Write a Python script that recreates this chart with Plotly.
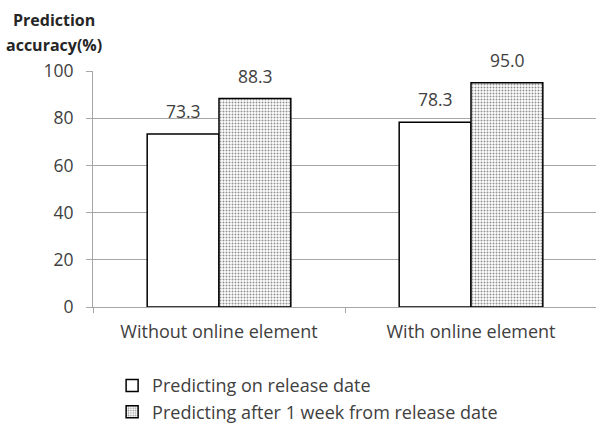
import plotly.graph_objects as go

categories = ["Without online element", "With online element"]
on_release = [73.3, 78.3]
after_week = [88.3, 95.0]
series_names = ["Predicting on release date",
                "Predicting after 1 week from release date"]
y_ticks = [0, 20, 40, 60, 80, 100]

TEXT = "#404040"
GRID = "#a6a6a6"
FONT = "Open Sans, DejaVu Sans, sans-serif"
BAR_PX = 72  # drawn bar width in pixels, used to centre value labels

fig = go.Figure()
fig.add_trace(go.Bar(
    x=categories, y=on_release, name=series_names[0],
    marker=dict(color="white", line=dict(color="black", width=1.5)),
    legendgroup="a",
))
fig.add_trace(go.Bar(
    x=categories, y=after_week, name=series_names[1],
    marker=dict(color="white", line=dict(color="black", width=1.5),
                pattern=dict(shape=".", fgcolor="#222222", bgcolor="white",
                             size=3, solidity=0.33)),
    legendgroup="b",
))

# value labels above each bar
annotations = []
for series, shift in ((on_release, -BAR_PX / 2), (after_week, BAR_PX / 2)):
    for cat, val in zip(categories, series):
        annotations.append(dict(
            x=cat, y=val, xref="x", yref="y", text=f"{val:.1f}",
            xshift=shift, yshift=9, xanchor="center", yanchor="bottom",
            showarrow=False, font=dict(size=17.5, color=TEXT, family=FONT)))

# y-axis title, two bold lines above the axis
annotations += [
    dict(text="<b>Prediction</b>", xref="paper", yref="paper",
         x=-0.0775, y=1.0, yshift=51, xanchor="center", yanchor="middle",
         showarrow=False, font=dict(size=16, color="#262626", family=FONT)),
    dict(text="<b>accuracy(%)</b>", xref="paper", yref="paper",
         x=-0.0775, y=1.0, yshift=26, xanchor="center", yanchor="middle",
         showarrow=False, font=dict(size=16, color="#262626", family=FONT)),
]

fig.update_layout(
    width=596, height=434,
    margin=dict(l=93, r=0, t=71, b=127),
    paper_bgcolor="white", plot_bgcolor="white",
    barmode="group", bargap=0.43, bargroupgap=0,
    font=dict(family=FONT, color=TEXT, size=15),
    showlegend=True,
    legend=dict(x=0.038, y=-0.255, xanchor="left", yanchor="top",
                orientation="v", tracegroupgap=9,
                font=dict(size=18, color=TEXT, family=FONT),
                itemwidth=30, traceorder="normal"),
    xaxis=dict(range=[-0.5, 1.496], showgrid=False,
               showline=True, linecolor=GRID, linewidth=1,
               ticks="outside", tickson="boundaries", ticklen=5, tickcolor=GRID,
               tickfont=dict(size=18, color=TEXT, family=FONT),
               ticklabelstandoff=8),
    yaxis=dict(range=[0, 100], tickvals=y_ticks, showgrid=True,
               gridcolor=GRID, gridwidth=1, zeroline=False,
               showline=True, linecolor=GRID, linewidth=1,
               ticks="outside", ticklen=6, tickcolor=GRID,
               tickfont=dict(size=17.5, color=TEXT, family=FONT),
               ticklabelstandoff=9),
    annotations=annotations,
)

fig.write_html("out.html")
